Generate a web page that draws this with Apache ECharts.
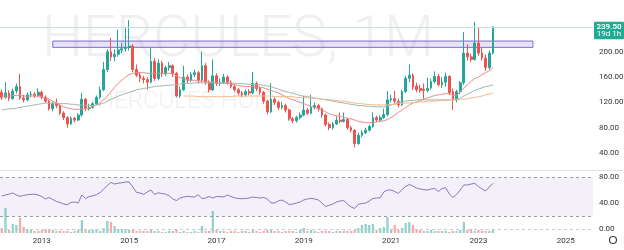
<!DOCTYPE html>
<html><head><meta charset="utf-8">
<script src="https://cdn.jsdelivr.net/npm/echarts@6/dist/echarts.min.js"></script>
<style>html,body{margin:0;padding:0;background:#fff}#c{width:624px;height:250px}</style>
</head><body><div id="c"></div>
<script>
// ---- categories (monthly, Feb 2012 .. Aug 2025) ----
const startYear = 2012, startMonth = 2, categoryCount = 163;
const yearLabels = ['2013','2015','2017','2019','2021','2023','2025'];
const priceTicks = [40, 80, 120, 160, 200, 240, 280];
const rsiTicks = [0, 40, 80];

// ---- monthly OHLC (HERCULES, 1M) ----
const opens = [136,128,135,126,138,145,127,124,132,133,
131,136,128,122,110,118,115,103,96,86,
95,92,100,125,110,112,118,128,140,172,
200,192,196,203,205,207,209,172,163,158,
156,152,185,158,182,165,175,178,166,130,
140,160,155,164,167,155,178,152,140,162,
150,152,160,152,145,140,135,132,137,135,
150,142,136,122,105,125,120,112,115,108,
94,91,96,100,108,103,112,115,110,100,
85,80,86,92,90,93,80,76,55,68,
72,76,82,96,92,96,101,124,126,122,
116,137,158,163,146,142,141,139,143,153,
161,148,152,161,137,124,137,151,198,192,
188,214,198,190,175,198];
const closes = [128,135,126,138,145,127,124,132,133,131,
136,128,122,110,118,115,103,96,86,95,
92,100,125,110,112,118,128,140,172,200,
192,196,203,205,207,209,172,163,158,156,
152,185,158,182,165,175,178,166,130,140,
160,155,164,167,155,178,152,140,162,150,
152,160,152,145,140,135,132,137,135,150,
142,136,122,105,125,120,112,115,108,94,
91,96,100,108,103,112,115,110,100,85,
80,86,92,90,93,80,76,55,68,72,
76,82,96,92,96,101,124,126,122,116,
137,158,163,144,140,139,139,142,153,161,
148,152,161,135,124,137,151,198,192,188,
214,198,190,175,198,239.5];
const highs = [140,152,139,142,150,165,132,136,138,136,
142,139,131,124,121,126,117,106,98,98,
97,103,135,127,118,121,131,145,184,204,
222,204,235,214,238,250,212,180,168,162,
160,206,190,188,186,178,184,180,168,145,
178,164,168,172,170,200,182,155,188,166,
158,165,163,155,148,143,138,140,141,168,
153,145,138,124,150,128,123,120,118,110,
97,99,104,130,111,132,120,118,112,102,
88,89,98,104,104,95,83,78,72,76,
80,85,104,99,100,110,138,132,138,126,
140,162,180,166,151,148,150,159,158,169,
165,160,167,163,142,140,154,231,212,197,
247,238,206,196,202,240];
const lows = [124,126,122,124,134,124,120,122,128,127,
129,125,119,107,106,111,100,92,80,84,
88,90,98,106,107,110,116,126,138,168,
186,185,192,198,200,202,168,160,152,150,
140,150,154,155,160,162,170,160,128,127,
138,150,152,160,150,152,148,136,138,146,
146,149,148,142,137,131,128,129,131,133,
138,132,118,101,103,116,108,109,104,91,
87,88,93,98,100,101,109,106,96,82,
76,77,84,87,88,77,72,49,53,65,
70,74,80,89,90,94,98,120,119,112,
114,135,152,140,136,135,125,136,140,150,
145,143,145,132,108,120,133,148,186,184,
186,194,186,170,172,196];

// ---- moving averages ----
const maShort = [130,130,130,131,131,131,130,130,130,130,130,129,
127,125,122,119,116,113,111,110,109,109,110,
110,111,113,116,119,124,130,137,
144,150,155,160,164,166,167,167,167,166,
166,166,166,166,166,166,165,162,159,157,
156,155,155,154,154,153,152,152,151,151,
150,150,149,148,147,146,145,145,145,144,
144,143,141,139,137,135,132,129,126,124,
122,120,118,116,114,112,110,108,105,102,
100,99,98,96,95,94,92,90,89,88,
88,88,89,90,91,93,96,100,104,108,
112,116,119,121,123,125,127,129,131,132,
133,134,133,131,131,137,143,148,153,158,160,164,167,170,175];
const maMid = [108,109,110,110,111,112,113,114,115,116,117,118,119,
119,119,119,118,118,118,117,117,116,116,115,115,
115,116,117,119,122,125,
127,130,132,134,136,138,140,141,142,143,
144,145,146,146,147,147,148,148,149,150,
150,150,151,151,151,151,151,151,151,151,151,151,151,150,150,150,149,149,148,148,
148,147,146,145,143,141,139,137,136,134,133,131,130,129,128,
127,126,125,124,123,122,121,120,119,118,117,116,115,115,114,114,113,113,113,113,
114,116,118,120,121,122,123,123,124,124,124,124,124,124,124,
124,124,124,124,125,127,130,133,136,139,141,143,145,146,148];
const maLong = [null,null,null,null,null,null,null,null,null,null,
null,null,null,null,null,null,null,null,null,null,
null,null,null,null,null,null,null,null,null,null,
null,null,null,null,null,null,null,null,null,null,
null,null,null,null,null,null,null,null,null,null,
130,130,130,130,129,129,129,129,129,129,
129,129,129,129,130,130,130,130,130,130,
130,130,130,130,130,129,129,129,129,129,
129,128,128,128,127,127,126,126,125,125,
124,124,123,122,122,121,120,119,118,118,
117,117,116,116,116,116,116,117,117,118,
118,119,119,120,120,121,121,122,122,122,
123,123,123,124,124,124,125,125,126,127,128,129,130,132,133,135];

// ---- RSI and volume ----
const rsi = [51,52.6,54,55.7,52.6,50.5,52,53,53.6,53.8,
52.6,50.2,46.4,48.7,45.6,42.5,41,38.6,37.5,41,
41.7,40.2,52.6,47.1,50.2,51.3,53,56.4,61.9,67.3,
71.9,69.6,70.9,71.5,72.7,72.7,65,56.7,55.7,53.6,
57.2,60.3,53.3,56,54.9,53.8,51.3,46.4,44,47.9,
49.5,50.5,49.7,49.5,53,47.1,47.9,50.2,47.9,50.2,
50,49.5,52.6,50.2,48.2,47.1,46.8,47.1,47.9,49.5,
48.7,47.9,48.7,46.4,40.2,40.2,43.3,44.8,41.7,37.8,
38.6,40.2,41.7,44.8,46.4,47.4,46.4,44.8,40.2,34.7,
36.6,38.6,41.7,43.3,44,38.6,34,31.6,38.2,39.4,
40.2,43.3,47.1,47.9,48.4,57.2,60.3,60.3,58,54.9,
61.1,65.7,68.8,66.5,63.4,61.9,60.8,60.3,61.9,62.6,
58,62.6,63.7,54.1,48.7,53.3,60.3,68.1,68.1,69.6,
70.7,65.7,61.9,58.8,65,70.7];
const volume = [5,25,3,9,8,15,6,4,3,2,
2,3,4,3,3,2,2,2,2,1,
2,3,13,3,3,3,4,2,5,12,
11,7,4,3,4,3,3,2,2,2,
2,3,2,2,1,1,2,2,3,1,
2,1,1,2,1,7,2,2,22,3,
2,2,1,2,2,1,2,2,1,3,
2,1,2,3,4,2,2,1,2,2,
2,1,3,5,2,3,2,1,2,2,
2,1,2,2,2,2,2,3,5,8,
9,8,9,3,5,6,16,4,8,3,
5,10,11,8,4,3,2,2,3,2,
2,2,2,1,2,2,3,11,3,4,
2,3,2,2,2,3];

// ---- annotations ----
const zoneLow = 207, zoneHigh = 217, zoneStart = '2013-04', zoneEnd = '2024-04';
const lastPrice = 239.5, countdownText = '19d 1h';
const watermarkTitle = 'HERCULES, 1M', watermarkDesc = 'HERCULES HOISTS';

const months = [];
for (let k = 0; k < categoryCount; k++) {
  const m = startMonth - 1 + k;
  months.push((startYear + Math.floor(m / 12)) + '-' + String(m % 12 + 1).padStart(2, '0'));
}
const candleData = opens.map((o, i) => [o, closes[i], lows[i], highs[i]]);
const UP = '#26a69a', DOWN = '#ef5350';
const volData = volume.map((v, i) => ({ value: v, itemStyle: { color: closes[i] >= opens[i] ? 'rgba(38,166,154,0.5)' : 'rgba(239,83,80,0.5)' } }));

const FONT = 'Roboto, "Noto Sans", sans-serif';
const chart = echarts.init(document.getElementById('c'), null, { renderer: 'canvas' });

function xAx(k) {
  return {
    type: 'category', data: months, gridIndex: k, boundaryGap: true,
    axisLine: { show: false }, axisTick: { show: false }, splitLine: { show: false },
    axisPointer: { show: false },
    axisLabel: k === 2 ? {
      show: true, fontSize: 8, color: '#333', margin: 4, fontFamily: FONT,
      interval: (idx, val) => val.endsWith('-01') && yearLabels.includes(val.slice(0, 4)),
      formatter: v => v.slice(0, 4)
    } : { show: false }
  };
}
const noLine = { axisLine: { show: false }, axisTick: { show: false }, splitLine: { show: false } };
const priceMin = 0, priceMax = 280, rsiMin = 0, rsiMax = 80;
const gMain = { left: 0, right: 31, top: 1.2, height: 177.1 };
const gRsi = { left: 0, right: 31, top: 177.3, height: 51.6 };
const gVol = { left: 0, right: 31, top: 203, height: 30 };
const edgeLabel = { show: true, position: 'end', distance: 6, color: '#333', fontSize: 8, fontFamily: FONT,
  formatter: p => Number(p.value).toFixed(2) };

chart.setOption({
  animation: false,
  backgroundColor: '#ffffff',
  grid: [
    Object.assign({ outerBoundsMode: 'none' }, gMain),
    Object.assign({ outerBoundsMode: 'none' }, gRsi),
    Object.assign({ outerBoundsMode: 'none' }, gVol)
  ],
  xAxis: [xAx(0), xAx(1), xAx(2)],
  yAxis: [
    Object.assign({ gridIndex: 0, type: 'value', position: 'right', min: priceMin, max: priceMax, interval: 40,
      axisLabel: { fontSize: 8, color: '#333', margin: 6, fontFamily: FONT,
        formatter: v => (priceTicks.includes(v) && v !== priceMax) ? v.toFixed(2) : '' } }, noLine),
    Object.assign({ gridIndex: 1, type: 'value', position: 'right', min: rsiMin, max: rsiMax, interval: 40,
      axisLabel: { fontSize: 8, color: '#333', margin: 6, fontFamily: FONT,
        formatter: v => (rsiTicks.includes(v) && v !== rsiMin) ? v.toFixed(2) : '' } }, noLine),
    { gridIndex: 2, type: 'value', min: 0, max: 30, show: false }
  ],
  series: [
    {
      type: 'candlestick', name: 'HERCULES', xAxisIndex: 0, yAxisIndex: 0, data: candleData,
      barWidth: '62%', z: 3,
      itemStyle: { color: UP, color0: DOWN, borderColor: UP, borderColor0: DOWN, borderWidth: 1 },
      markArea: {
        silent: true,
        itemStyle: { color: 'rgba(150,125,222,0.22)', borderColor: '#7f6cd0', borderWidth: 1 },
        data: [[{ xAxis: zoneStart, yAxis: zoneHigh }, { xAxis: zoneEnd, yAxis: zoneLow }]]
      },
      markLine: {
        silent: true, symbol: 'none', label: { show: false },
        lineStyle: { color: '#bfe2dc', type: 'solid', width: 1 },
        data: [
          { yAxis: lastPrice },
          { yAxis: priceMax, lineStyle: { opacity: 0 }, label: edgeLabel }
        ]
      }
    },
    { type: 'line', name: 'MA short', xAxisIndex: 0, yAxisIndex: 0, data: maShort, symbol: 'none', z: 4,
      lineStyle: { color: '#f08a84', width: 1 } },
    { type: 'line', name: 'MA mid', xAxisIndex: 0, yAxisIndex: 0, data: maMid, symbol: 'none', z: 4,
      lineStyle: { color: '#9fb9ae', width: 1 } },
    { type: 'line', name: 'MA long', xAxisIndex: 0, yAxisIndex: 0, data: maLong, symbol: 'none', z: 4,
      lineStyle: { color: '#f2b98a', width: 1 } },
    {
      type: 'line', name: 'RSI', xAxisIndex: 1, yAxisIndex: 1, data: rsi, symbol: 'none', z: 4,
      lineStyle: { color: '#8678bf', width: 1 },
      markArea: { silent: true, itemStyle: { color: 'rgba(126,87,194,0.09)' }, data: [[{ yAxis: 80 }, { yAxis: 20 }]] },
      markLine: { silent: true, symbol: 'none', label: { show: false },
        lineStyle: { color: '#9a9aa6', type: [3, 3], width: 1 },
        data: [{ yAxis: 80 }, { yAxis: 20 },
          { yAxis: rsiMin, lineStyle: { color: '#c9c9d0', type: [3, 3] }, label: edgeLabel }] }
    },
    { type: 'bar', name: 'Volume', xAxisIndex: 2, yAxisIndex: 2, data: volData, barWidth: '62%', z: 3 }
  ]
});

const yPix = chart.convertToPixel({ yAxisIndex: 0 }, lastPrice);
chart.setOption({
  graphic: {
    elements: [
      { type: 'text', z: 0, silent: true, left: 42, top: 12,
        style: { text: watermarkTitle, fill: '#f0f0f0', font: '300 58px Roboto, sans-serif' } },
      { type: 'text', z: 0, silent: true, left: 97, top: 90,
        style: { text: watermarkDesc, fill: '#f0f0f0', font: '300 24px Roboto, sans-serif' } },
      { type: 'line', z: 1, silent: true, shape: { x1: 0, y1: 170.5, x2: 624, y2: 170.5 }, style: { stroke: '#e3e3e3', lineWidth: 1 } },
      { type: 'rect', z: 10, silent: true, shape: { x: 594, y: yPix - 5, width: 30, height: 17.5, r: 1 }, style: { fill: '#22ab94' } },
      { type: 'text', z: 11, silent: true, x: 609, y: yPix + 0.5,
        style: { text: lastPrice.toFixed(2), fill: '#fff', font: '600 8px Roboto, sans-serif', align: 'center', verticalAlign: 'middle' } },
      { type: 'text', z: 11, silent: true, x: 609, y: yPix + 7.5,
        style: { text: countdownText, fill: '#fff', font: '8px Roboto, sans-serif', align: 'center', verticalAlign: 'middle' } },
      { type: 'circle', z: 11, silent: true, shape: { cx: 613, cy: 240, r: 3.5 }, style: { fill: 'none', stroke: '#444', lineWidth: 1.2 } }
    ]
  }
});
</script>
</body></html>
